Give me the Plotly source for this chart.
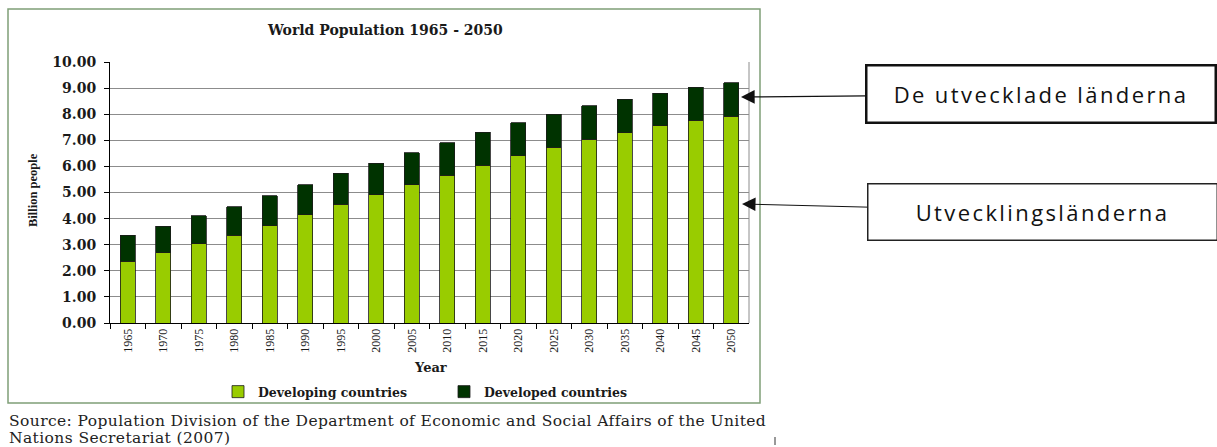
import plotly.graph_objects as go

W, H = 1217, 447

years = ["1965", "1970", "1975", "1980", "1985", "1990", "1995", "2000", "2005",
         "2010", "2015", "2020", "2025", "2030", "2035", "2040", "2045", "2050"]
developing = [2.36, 2.69, 3.03, 3.37, 3.73, 4.15, 4.55, 4.92, 5.29,
              5.67, 6.05, 6.40, 6.74, 7.05, 7.29, 7.55, 7.77, 7.92]
developed = [1.00, 1.01, 1.07, 1.09, 1.14, 1.15, 1.18, 1.20, 1.24,
             1.24, 1.26, 1.27, 1.26, 1.28, 1.29, 1.25, 1.26, 1.28]

title_text = "World Population 1965 - 2050"
y_title = "Billion people"
x_title = "Year"
label_developed = "De utvecklade länderna"
label_developing = "Utvecklingsländerna"
source_lines = ["Source: Population Division of the Department of Economic and Social Affairs of the United",
                "Nations Secretariat (2007)"]


def px(x):
    return x / W


def py(y):
    return 1 - y / H


SERIF = "DejaVu Serif"
GREEN = "#99CC00"
DARK = "#003300"

fig = go.Figure()
fig.add_trace(go.Bar(x=years, y=developing, name="Developing countries",
                     marker=dict(color=GREEN, line=dict(color="#1a1a1a", width=0.8)),
                     legend="legend"))
fig.add_trace(go.Bar(x=years, y=developed, name="Developed countries",
                     marker=dict(color=DARK, line=dict(color="#1a1a1a", width=0.8)),
                     legend="legend2"))

legend_common = dict(orientation="h", yanchor="middle", xanchor="left",
                     bgcolor="rgba(0,0,0,0)",
                     font=dict(family=SERIF, size=12.5, color="#1a1a1a", weight="bold"))

fig.update_layout(
    width=W, height=H,
    margin=dict(l=0, r=0, t=0, b=0),
    paper_bgcolor="white", plot_bgcolor="white",
    barmode="stack", bargap=0.585,
    showlegend=True,
    legend=dict(x=px(218), y=py(392), **legend_common),
    legend2=dict(x=px(444), y=py(392), **legend_common),
    xaxis=dict(domain=[px(110), px(749)], type="category",
               showline=True, linecolor="black", linewidth=1,
               ticks="outside", ticklen=5, tickcolor="black", tickson="boundaries",
               tickangle=-90, tickfont=dict(family="Liberation Serif", size=12, color="#1a1a1a"),
               showgrid=False, automargin=False),
    yaxis=dict(domain=[py(323), py(62)], range=[0, 10], dtick=1, tickformat=".2f",
               showline=True, linecolor="black", linewidth=1,
               ticks="outside", ticklen=5, tickcolor="black", ticklabelstandoff=5,
               tickfont=dict(family=SERIF, size=14, color="#1a1a1a", weight="bold"),
               showgrid=True, gridcolor="#8c8c8c", gridwidth=1,
               zeroline=False, automargin=False),
)

shapes = [
    # outer chart frame
    dict(type="rect", xref="paper", yref="paper", x0=px(8), x1=px(760), y0=py(403), y1=py(9),
         line=dict(color="#7f9f77", width=1.5), layer="below"),
    # right border of plot area
    dict(type="line", xref="x domain", yref="y domain", x0=1, x1=1, y0=0, y1=1,
         line=dict(color="#8c8c8c", width=1)),
    # small stray mark
    dict(type="line", xref="paper", yref="paper", x0=px(775), x1=px(775), y0=py(437), y1=py(445),
         line=dict(color="#333333", width=1)),
]
fig.update_layout(shapes=shapes)


def txt(text, x, y, size, family=SERIF, xanchor="center", angle=0, color="#1a1a1a"):
    return dict(text=text, x=px(x), y=py(y), xref="paper", yref="paper",
                xanchor=xanchor, yanchor="middle", showarrow=False, textangle=angle,
                font=dict(family=family, size=size, color=color))


SPACED = '<span style="letter-spacing:2.4px">{}</span>'
SRC = '<span style="letter-spacing:0.4px">{}</span>'

annotations = [
    txt("<b>" + title_text + "</b>", 385, 30, 14),
    txt("<b>" + y_title + "</b>", 33, 190, 12.5, family="Liberation Serif", angle=-90),
    txt("<b>" + x_title + "</b>", 430, 367, 13),
    txt(SRC.format(source_lines[0]), 7, 421, 15.5, xanchor="left", color="#222222"),
    txt(SRC.format(source_lines[1]), 7, 438, 15.5, xanchor="left", color="#222222"),
    # callout boxes with arrows
    dict(text=SPACED.format(label_developed), x=px(741), y=py(97), xref="paper", yref="paper",
         showarrow=True, ax=1041 - 741, ay=94.5 - 97, axref="pixel", ayref="pixel",
         arrowhead=2, arrowsize=2.1, arrowwidth=1.3, arrowcolor="#111111",
         width=347, height=55, borderpad=0, borderwidth=2.5, bordercolor="#111111",
         bgcolor="white", align="center",
         font=dict(family="Open Sans", size=22, color="#111111")),
    dict(text=SPACED.format(label_developing), x=px(742), y=py(204), xref="paper", yref="paper",
         showarrow=True, ax=1042 - 742, ay=211.5 - 204, axref="pixel", ayref="pixel",
         arrowhead=2, arrowsize=2.7, arrowwidth=1, arrowcolor="#111111",
         width=348, height=55, borderpad=0, borderwidth=1.5, bordercolor="#222222",
         bgcolor="white", align="center",
         font=dict(family="Open Sans", size=22, color="#111111")),
]
fig.update_layout(annotations=annotations)

fig.write_html("out.html", config={"displayModeBar": False},
               post_script="document.body.style.margin='0px';")
